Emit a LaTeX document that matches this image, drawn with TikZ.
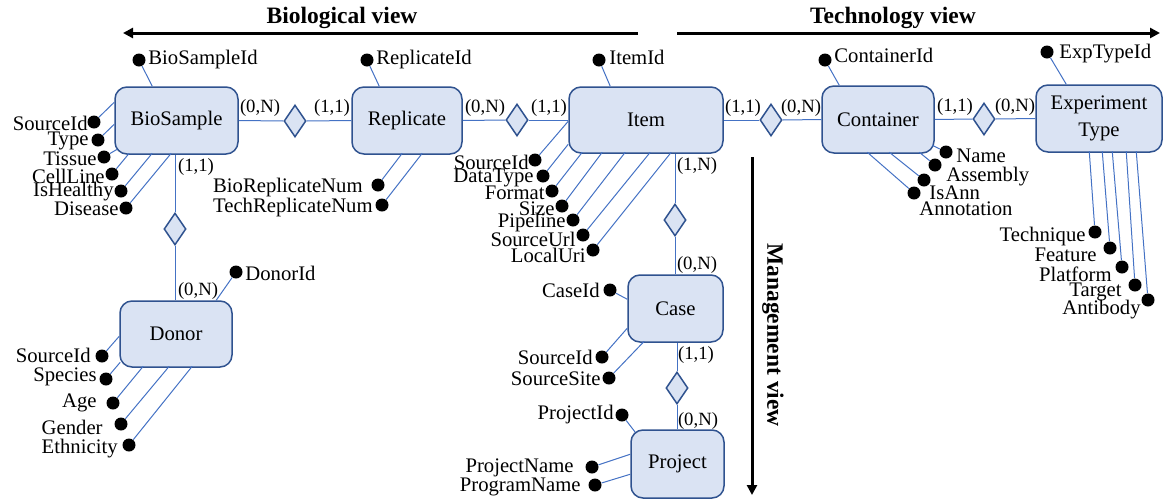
\documentclass[tikz,border=0pt]{standalone}
\usepackage{fontspec}
\setmainfont{Liberation Serif}
\usetikzlibrary{shapes.geometric,calc,arrows.meta}
\definecolor{boxfill}{HTML}{DAE3F3}
\definecolor{boxdraw}{HTML}{2F528F}
\definecolor{linkc}{HTML}{4472C4}
\begin{document}
\begin{tikzpicture}[x=0.5pt,y=-0.5pt,
  ent/.style={draw=boxdraw,fill=boxfill,line width=0.75pt,rounded corners=6pt,inner sep=0pt,font=\fontsize{10.35}{12}\selectfont},
  rel/.style={diamond,draw=boxdraw,fill=boxfill,line width=0.75pt,inner sep=0pt,minimum width=11pt,minimum height=16pt},
  conn/.style={draw=linkc,line width=0.5pt},
  dotn/.style={circle,fill=black,inner sep=0pt,minimum size=6.5pt},
  lab/.style={inner sep=0pt,font=\fontsize{10.35}{12}\selectfont},
  card/.style={inner sep=0pt,font=\fontsize{9.35}{11}\selectfont},
  view/.style={inner sep=0pt,font=\fontsize{11.75}{14}\selectfont\bfseries},
  varrow/.style={line width=1.5pt,-{Triangle[length=5pt,width=5pt]}}
]
\useasboundingbox (0,0) rectangle (1164,499);

% view arrows
\coordinate (bvs) at (638,33); \coordinate (bve) at (123,33);
\coordinate (tvs) at (677,33); \coordinate (tve) at (1160,33);
\coordinate (mvs) at (752,157); \coordinate (mve) at (752,495);
\draw[varrow] (bvs) -- (bve);
\draw[varrow] (tvs) -- (tve);
\draw[varrow] (mvs) -- (mve);
\node[view] (bv) at (342,18) {Biological view};
\node[view] (tv) at (893,18) {Technology view};
\node[view,rotate=-90] (mv) at (773,335) {Management view};

% entities
\node[ent,minimum width=61.5pt,minimum height=33.5pt] (bio) at (176.5,120.5) {BioSample};
\node[ent,minimum width=55pt,minimum height=33.5pt] (rep) at (407,120.5) {Replicate};
\node[ent,minimum width=77pt,minimum height=33pt] (item) at (646,120) {Item};
\node[ent,minimum width=56pt,minimum height=33.5pt] (cont) at (878,119.5) {Container};
\node[ent,minimum width=63pt,minimum height=33.5pt,align=center,font=\fontsize{10.35}{13.5}\selectfont] (exp) at (1099,118.5) {Experiment\\Type};
\node[ent,minimum width=56pt,minimum height=33pt] (donor) at (176,334) {Donor};
\node[ent,minimum width=47.5pt,minimum height=33.5pt] (case) at (675.5,308.5) {Case};
\node[ent,minimum width=46.5pt,minimum height=34pt] (proj) at (677.5,464) {Project};

% relationships
\node[rel] (r1) at (295,121) {};
\node[rel] (r2) at (517,120) {};
\node[rel] (r3) at (771,120) {};
\node[rel] (r4) at (984,119) {};
\node[rel] (r5) at (175,229) {};
\node[rel] (r6) at (675,220) {};
\node[rel] (r7) at (677,388) {};

\draw[conn] (bio.east) -- (r1.west);
\draw[conn] (r1.east) -- (rep.west);
\draw[conn] (rep.east) -- (r2.west);
\draw[conn] (r2.east) -- (item.west);
\draw[conn] (item.east) -- (r3.west);
\draw[conn] (r3.east) -- (cont.west);
\draw[conn] (cont.east) -- (r4.west);
\draw[conn] (r4.east) -- (exp.west);
\draw[conn] (r5.north |- bio.south) -- (r5.north);
\draw[conn] (r5.south) -- (r5.south |- donor.north);
\draw[conn] (r6.north |- item.south) -- (r6.north);
\draw[conn] (r6.south) -- (r6.south |- case.north);
\draw[conn] (r7.north |- case.south) -- (r7.north);
\draw[conn] (r7.south) -- (r7.south |- proj.north);

% cardinalities
\node[card] (c1) at (260,108) {(0,N)};
\node[card] (c2) at (332,108) {(1,1)};
\node[card] (c3) at (485,108) {(0,N)};
\node[card] (c4) at (549,108) {(1,1)};
\node[card] (c5) at (743,108) {(1,1)};
\node[card] (c6) at (801,108) {(0,N)};
\node[card] (c7) at (955,107) {(1,1)};
\node[card] (c8) at (1015,107) {(0,N)};
\node[card] (c9) at (196,167) {(1,1)};
\node[card] (c10) at (198,291) {(0,N)};
\node[card] (c11) at (697,166) {(1,N)};
\node[card] (c12) at (697,265) {(0,N)};
\node[card] (c13) at (696,355) {(1,1)};
\node[card] (c14) at (698,421) {(0,N)};

% BioSample attributes
\node[dotn] (b1) at (139,60) {}; \node[lab,anchor=west] (b1l) at (148,60) {BioSampleId};
\draw[conn] (b1) -- ($(bio.north west)+(38,0)$);
\node[dotn] (b2) at (94,122) {}; \node[lab,anchor=east] (b2l) at (88,123) {SourceId};
\draw[conn] (b2) -- ($(bio.north west)+(0,16)$);
\node[dotn] (b3) at (98,140) {}; \node[lab,anchor=east] (b3l) at (89,141) {Type};
\draw[conn] (b3) -- ($(bio.north west)+(0,38)$);
\node[dotn] (b4) at (104,157) {}; \node[lab,anchor=east] (b4l) at (97,159) {Tissue};
\draw[conn] (b4) -- ($(bio.north west)+(3,63)$);
\node[dotn] (b5) at (112,174) {}; \node[lab,anchor=east] (b5l) at (105,176) {CellLine};
\draw[conn] (b5) -- ($(bio.north west)+(15,67)$);
\node[dotn] (b6) at (121,191) {}; \node[lab,anchor=east] (b6l) at (114,192) {IsHealthy};
\draw[conn] (b6) -- ($(bio.north west)+(38,67)$);
\node[dotn] (b7) at (126,208) {}; \node[lab,anchor=east] (b7l) at (119,209) {Disease};
\draw[conn] (b7) -- ($(bio.north west)+(57,67)$);

% Replicate attributes
\node[dotn] (p1) at (367,60) {}; \node[lab,anchor=west] (p1l) at (376,60) {ReplicateId};
\draw[conn] (p1) -- ($(rep.north west)+(28,0)$);
\node[dotn] (p2) at (378,185) {}; \node[lab,anchor=east] (p2l) at (363,188) {BioReplicateNum};
\draw[conn] (p2) -- ($(rep.north west)+(51,67)$);
\node[dotn] (p3) at (382,205) {}; \node[lab,anchor=east] (p3l) at (373,208) {TechReplicateNum};
\draw[conn] (p3) -- ($(rep.north west)+(71,67)$);

% Item attributes
\node[dotn] (i1) at (599,60) {}; \node[lab,anchor=west] (i1l) at (609,57) {ItemId};
\draw[conn] (i1) -- ($(item.north west)+(42,0)$);
\node[dotn] (i2) at (535,160) {}; \node[lab,anchor=east] (i2l) at (529,162) {SourceId};
\draw[conn] (i2) -- ($(item.north west)+(0,35)$);
\node[dotn] (i3) at (543,176) {}; \node[lab,anchor=east] (i3l) at (534,178) {DataType};
\draw[conn] (i3) -- ($(item.north west)+(0,58)$);
\node[dotn] (i4) at (552,191) {}; \node[lab,anchor=east] (i4l) at (545,193) {Format};
\draw[conn] (i4) -- ($(item.north west)+(14,66)$);
\node[dotn] (i5) at (562,206) {}; \node[lab,anchor=east] (i5l) at (555,209) {Size};
\draw[conn] (i5) -- ($(item.north west)+(34,66)$);
\node[dotn] (i6) at (573,220) {}; \node[lab,anchor=east] (i6l) at (566,223) {Pipeline};
\draw[conn] (i6) -- ($(item.north west)+(57,66)$);
\node[dotn] (i7) at (583,235) {}; \node[lab,anchor=east] (i7l) at (576,239) {SourceUrl};
\draw[conn] (i7) -- ($(item.north west)+(82,66)$);
\node[dotn] (i8) at (593,250) {}; \node[lab,anchor=east] (i8l) at (586,255) {LocalUri};
\draw[conn] (i8) -- ($(item.north west)+(103,66)$);

% Container attributes
\node[dotn] (k1) at (825,60) {}; \node[lab,anchor=west] (k1l) at (834,55) {ContainerId};
\draw[conn] (k1) -- ($(cont.north west)+(18,0)$);
\node[dotn] (k2) at (946,152) {}; \node[lab,anchor=west] (k2l) at (956,156) {Name};
\draw[conn] (k2) -- ($(cont.north west)+(111,60)$);
\node[dotn] (k3) at (935,165) {}; \node[lab,anchor=west] (k3l) at (946,177) {Assembly};
\draw[conn] (k3) -- ($(cont.north west)+(98,67)$);
\node[dotn] (k4) at (924,180) {}; \node[lab,anchor=west] (k4l) at (929,193) {IsAnn};
\draw[conn] (k4) -- ($(cont.north west)+(68,67)$);
\node[dotn] (k5) at (914,193) {}; \node[lab,anchor=west] (k5l) at (919,209) {Annotation};
\draw[conn] (k5) -- ($(cont.north west)+(46,67)$);

% Experiment Type attributes
\node[dotn] (e1) at (1047,52) {}; \node[lab,anchor=west] (e1l) at (1059,54) {ExpTypeId};
\draw[conn] (e1) -- ($(exp.north west)+(31,0)$);
\node[dotn] (e2) at (1095,232) {}; \node[lab,anchor=east] (e2l) at (1086,237) {Technique};
\draw[conn] (e2) -- ($(exp.north west)+(54,67)$);
\node[dotn] (e3) at (1110,248) {}; \node[lab,anchor=east] (e3l) at (1097,255) {Feature};
\draw[conn] (e3) -- ($(exp.north west)+(67,67)$);
\node[dotn] (e4) at (1122,267) {}; \node[lab,anchor=east] (e4l) at (1112,274) {Platform};
\draw[conn] (e4) -- ($(exp.north west)+(77,67)$);
\node[dotn] (e5) at (1135,285) {}; \node[lab,anchor=east] (e5l) at (1122,292) {Target};
\draw[conn] (e5) -- ($(exp.north west)+(91,67)$);
\node[dotn] (e6) at (1148,300) {}; \node[lab,anchor=east] (e6l) at (1141,310) {Antibody};
\draw[conn] (e6) -- ($(exp.north west)+(101,67)$);

% Donor attributes
\node[dotn] (d1) at (236,272) {}; \node[lab,anchor=west] (d1l) at (245,273) {DonorId};
\draw[conn] (d1) -- ($(donor.north west)+(97,0)$);
\node[dotn] (d2) at (102,356) {}; \node[lab,anchor=east] (d2l) at (91,355) {SourceId};
\draw[conn] (d2) -- ($(donor.north west)+(0,36)$);
\node[dotn] (d3) at (106,379) {}; \node[lab,anchor=east] (d3l) at (97,377) {Species};
\draw[conn] (d3) -- ($(donor.north west)+(1,62)$);
\node[dotn] (d4) at (113,403) {}; \node[lab,anchor=east] (d4l) at (97,403) {Age};
\draw[conn] (d4) -- ($(donor.north west)+(24,66)$);
\node[dotn] (d5) at (121,424) {}; \node[lab,anchor=east] (d5l) at (103,427) {Gender};
\draw[conn] (d5) -- ($(donor.north west)+(50,66)$);
\node[dotn] (d6) at (129,445) {}; \node[lab,anchor=east] (d6l) at (118,449) {Ethnicity};
\draw[conn] (d6) -- ($(donor.north west)+(73,66)$);

% Case attributes
\node[dotn] (s1) at (610,290) {}; \node[lab,anchor=east] (s1l) at (600,290) {CaseId};
\draw[conn] (s1) -- ($(case.north west)+(0,25)$);
\node[dotn] (s2) at (602,357) {}; \node[lab,anchor=east] (s2l) at (593,357) {SourceId};
\draw[conn] (s2) -- ($(case.north west)+(0,54)$);
\node[dotn] (s3) at (609,378) {}; \node[lab,anchor=east] (s3l) at (601,379) {SourceSite};
\draw[conn] (s3) -- ($(case.north west)+(17,67)$);

% Project attributes
\node[dotn] (j1) at (622,415) {}; \node[lab,anchor=east] (j1l) at (614,415) {ProjectId};
\draw[conn] (j1) -- ($(proj.north west)+(5,3)$);
\node[dotn] (j2) at (592,467) {}; \node[lab,anchor=east] (j2l) at (574,468) {ProjectName};
\draw[conn] (j2) -- ($(proj.north west)+(0,25)$);
\node[dotn] (j3) at (595,485) {}; \node[lab,anchor=east] (j3l) at (581,487) {ProgramName};
\draw[conn] (j3) -- ($(proj.north west)+(0,45)$);
\end{tikzpicture}
\end{document}
